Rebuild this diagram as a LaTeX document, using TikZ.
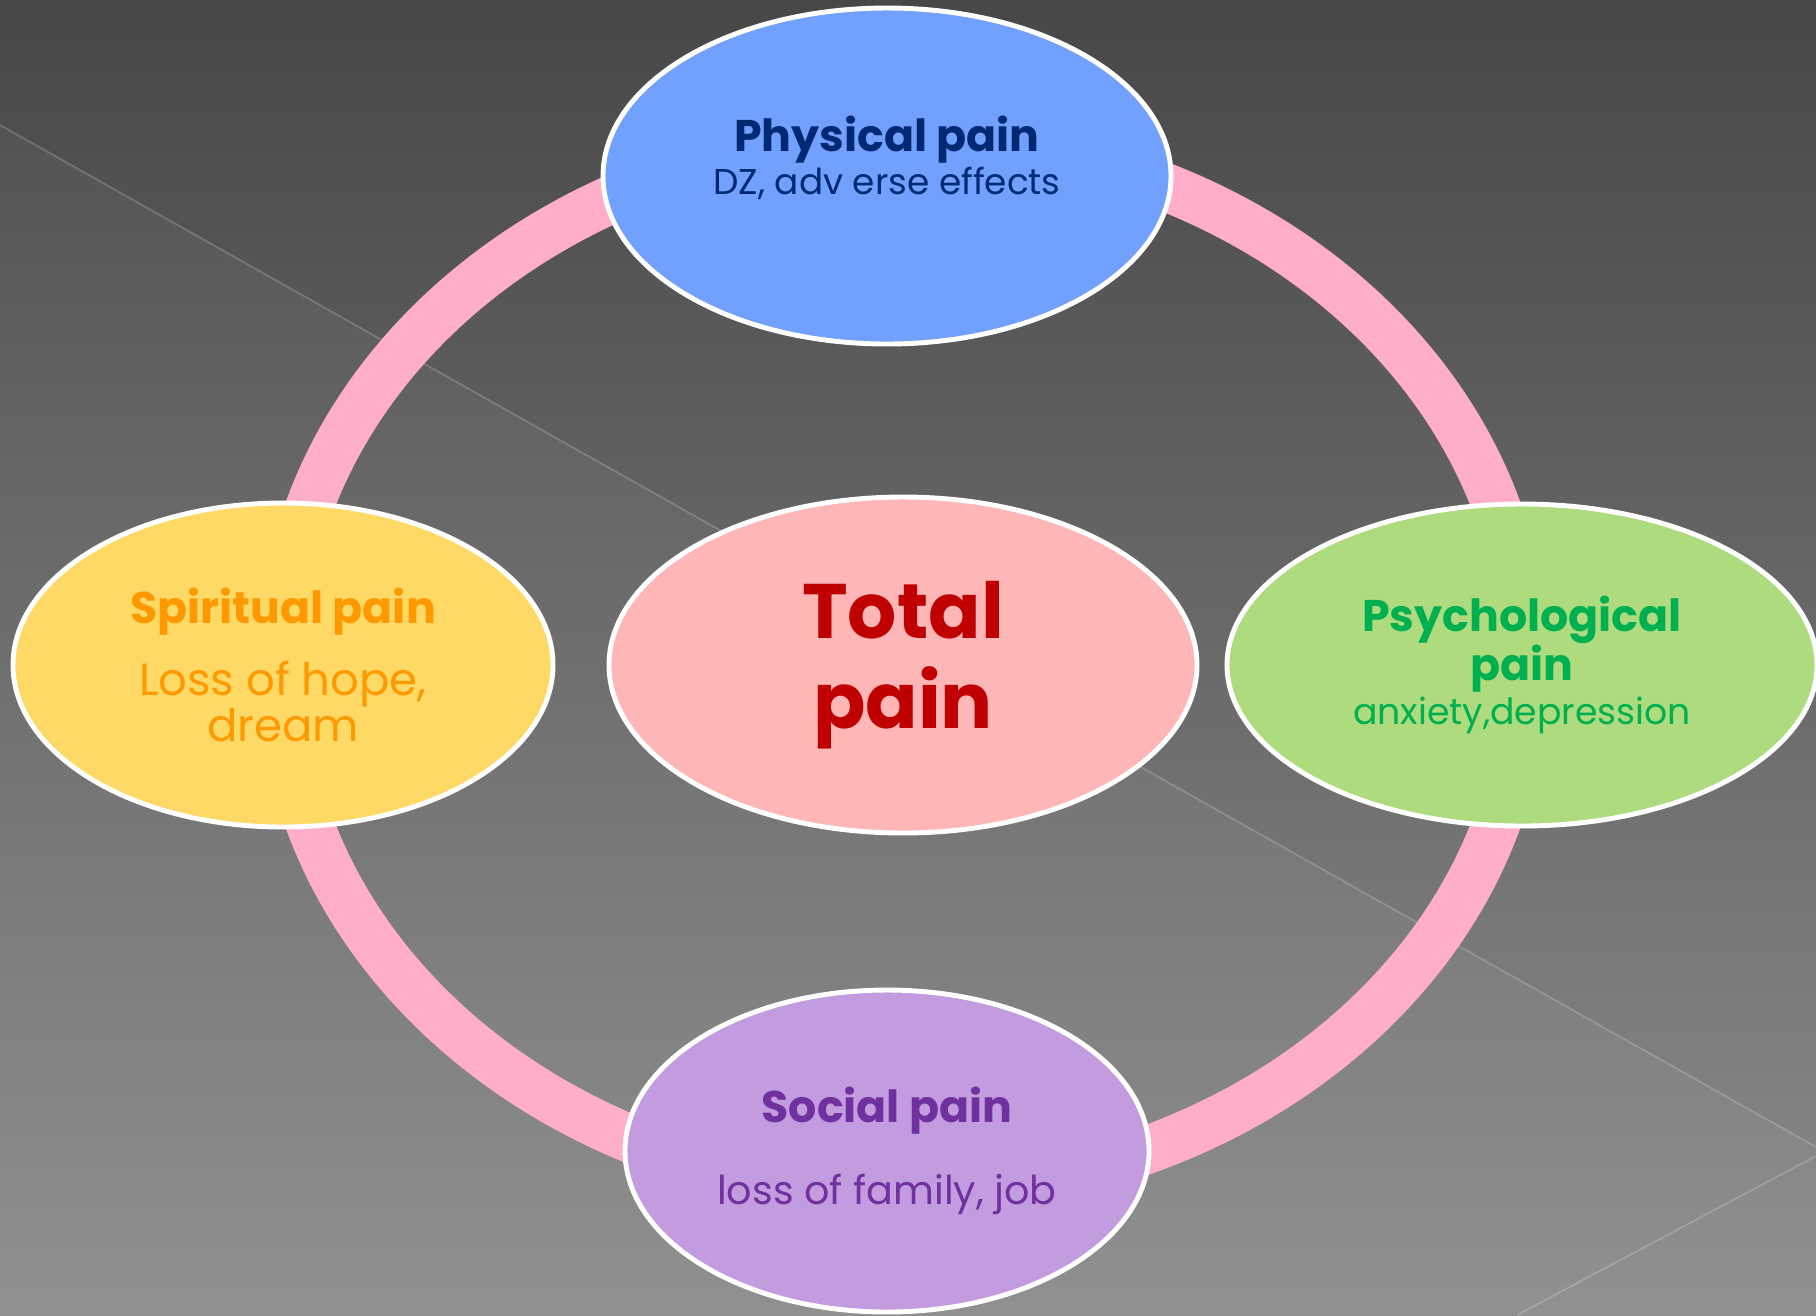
\documentclass[tikz,border=0pt]{standalone}
\usepackage{fontspec}
\setmainfont{Poppins}
\usepackage{tikz}
\usetikzlibrary{shapes.geometric, positioning}

\definecolor{ringpink}{HTML}{FFAEC9}
\definecolor{physfill}{HTML}{72A0FE}
\definecolor{phystext}{HTML}{002873}
\definecolor{totalfill}{HTML}{FFB6B6}
\definecolor{totaltext}{HTML}{C00000}
\definecolor{spiritfill}{HTML}{FFD966}
\definecolor{spirittext}{HTML}{FF9900}
\definecolor{psychfill}{HTML}{AEDB7E}
\definecolor{psychtext}{HTML}{00B050}
\definecolor{socialfill}{HTML}{C39BDF}
\definecolor{socialtext}{HTML}{7030A0}

% heading and detail lines inside the ellipses
\newcommand{\hd}{\fontsize{12.6}{12.3}\selectfont\bfseries}
\newcommand{\sub}[1]{\fontsize{#1}{12.3}\selectfont\mdseries}

\begin{document}
\begin{tikzpicture}[node distance=5cm]
		\tikzstyle{pain}=[ellipse,draw=white,line width=1.4pt,align=center,inner sep=0pt,
			font=\fontsize{10}{12.3}\selectfont]
		\tikzstyle{streak}=[white,opacity=0.18,line width=0.5pt]

		% slide background
		\useasboundingbox (0,0) rectangle (18.16,-13.15);
		\shade[top color=black!72,bottom color=black!45] (0,0) rectangle (18.16,-13.15);
		\fill[white,opacity=0.04] (0,-1.25) -- (18.16,-11.47) -- (18.16,-13.15) -- (0,-13.15) -- cycle;
		\draw[streak] (0,-1.25) -- (18.16,-11.47);
		\draw[streak] (18.16,-11.56) -- (15.17,-13.15);

		% ring behind the ellipses
		\coordinate (hub) at (9.03,-6.65);
		\draw[ringpink,line width=0.48cm] (hub) ellipse [x radius=6.22cm, y radius=5.27cm];

		\node[pain,fill=totalfill,text=totaltext,minimum width=5.88cm,minimum height=3.36cm,
			font=\fontsize{22}{25.6}\selectfont\bfseries] (total) at (hub) {Total\\pain};
		\node[pain,fill=physfill,text=phystext,minimum width=5.68cm,minimum height=3.36cm,text depth=12pt]
			(physical) [above of=total,node distance=4.89cm,xshift=-0.16cm]
			{\hd Physical pain\\\sub{10.2}DZ, adv erse effects};
		\node[pain,fill=spiritfill,text=spirittext,minimum width=5.40cm,minimum height=3.24cm]
			(spiritual) [left of=total,node distance=6.20cm]
			{\hd Spiritual pain\\[6.3pt]\sub{12.8}Loss of hope,\\[-0.5pt]\sub{12.8}dream};
		\node[pain,fill=psychfill,text=psychtext,minimum width=5.90cm,minimum height=3.22cm]
			(psych) [right of=total,node distance=6.19cm]
			{\hd Psychological\\[-0.6pt]\hd pain\\[0.3pt]\sub{10.3}anxiety,depression};
		\node[pain,fill=socialfill,text=socialtext,minimum width=5.24cm,minimum height=3.22cm]
			(social) [below of=total,node distance=4.86cm,xshift=-0.16cm]
			{\hd Social pain\\[11pt]\sub{11.3}loss of family, job};

	\end{tikzpicture}
\end{document}
